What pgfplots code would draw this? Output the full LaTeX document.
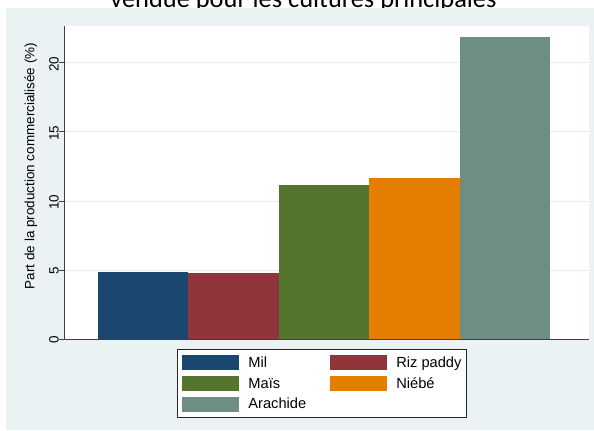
\documentclass[border=0pt]{standalone}
\usepackage{pgfplots}
\pgfplotsset{compat=1.18}
\usepackage{fontspec}
\setmainfont{Liberation Sans}
\newfontfamily\titlefont{Carlito}

\definecolor{stbg}{HTML}{EAF2F3}
\definecolor{stgrid}{HTML}{E4ECEE}
\definecolor{stnavy}{HTML}{1A476F}
\definecolor{stmaroon}{HTML}{90353B}
\definecolor{stgreen}{HTML}{55752F}
\definecolor{storange}{HTML}{E37E00}
\definecolor{stteal}{HTML}{6E8E84}

\begin{document}
\begin{tikzpicture}[font=\fontsize{10.1}{12}\selectfont]
% last line of the title
\node[anchor=base, inner sep=0pt, font=\titlefont\fontsize{19.8}{23}\selectfont]
  at (227.6pt,-5.5pt) {vendue pour les cultures principales};
% graph region background
\fill[stbg] (4.5pt,-6.3pt) rectangle (445.5pt,-322.5pt);
\begin{axis}[
  at={(48.75pt,-254.25pt)}, anchor=south west,
  width=393pt, height=234.75pt, scale only axis,
  xmin=-0.865, xmax=4.93, ymin=0, ymax=22.68,
  axis background/.style={fill=white},
  axis x line*=bottom, axis y line*=left,
  x axis line style={-, draw=black!75, line width=0.75pt},
  y axis line style={-, draw=black!75, line width=0.75pt},
  xtick=\empty,
  ytick={0,5,10,15,20},
  tick align=outside, major tick length=4.5pt,
  tick style={draw=black!75, line width=0.75pt},
  ymajorgrids, grid style={draw=stgrid, line width=0.75pt},
  /pgf/number format/assume math mode=true,
  yticklabel style={rotate=90, anchor=south, inner sep=0pt, xshift=-0.8pt},
  ylabel={Part de la production commercialisée (\%)},
  ylabel style={at={(axis description cs:-0.065,0.553)}, anchor=center, rotate=0},
  legend columns=2,
  legend style={at={(0.2137,-0.0319)}, anchor=north west,
    draw=black!85, line width=0.6pt, fill=white,
    inner xsep=3.75pt, inner ysep=4.5pt,
    row sep=4.25pt, column sep=0pt,
    font=\fontsize{11}{13}\selectfont,
    nodes={inner sep=0pt, anchor=base west},
    /tikz/every odd column/.append style={column sep=6.75pt},
    /tikz/every even column/.append style={column sep=18pt}},
  legend image code/.code={\fill[#1] (0pt,-2.1pt) rectangle (42.75pt,9.15pt);},
  legend cell align=left,
]
\addplot[ybar, bar width=1, bar shift=0pt, fill=stnavy, draw=none] coordinates {(0,4.86)};
\addlegendentry{Mil}
\addplot[ybar, bar width=1, bar shift=0pt, fill=stmaroon, draw=none] coordinates {(1,4.78)};
\addlegendentry{Riz paddy}
\addplot[ybar, bar width=1, bar shift=0pt, fill=stgreen, draw=none] coordinates {(2,11.16)};
\addlegendentry{Maïs}
\addplot[ybar, bar width=1, bar shift=0pt, fill=storange, draw=none] coordinates {(3,11.67)};
\addlegendentry{Niébé}
\addplot[ybar, bar width=1, bar shift=0pt, fill=stteal, draw=none] coordinates {(4,21.85)};
\addlegendentry{Arachide}
\end{axis}
\pgfresetboundingbox
\useasboundingbox (0pt,0pt) rectangle (445.5pt,-322.5pt);
\end{tikzpicture}
\end{document}
